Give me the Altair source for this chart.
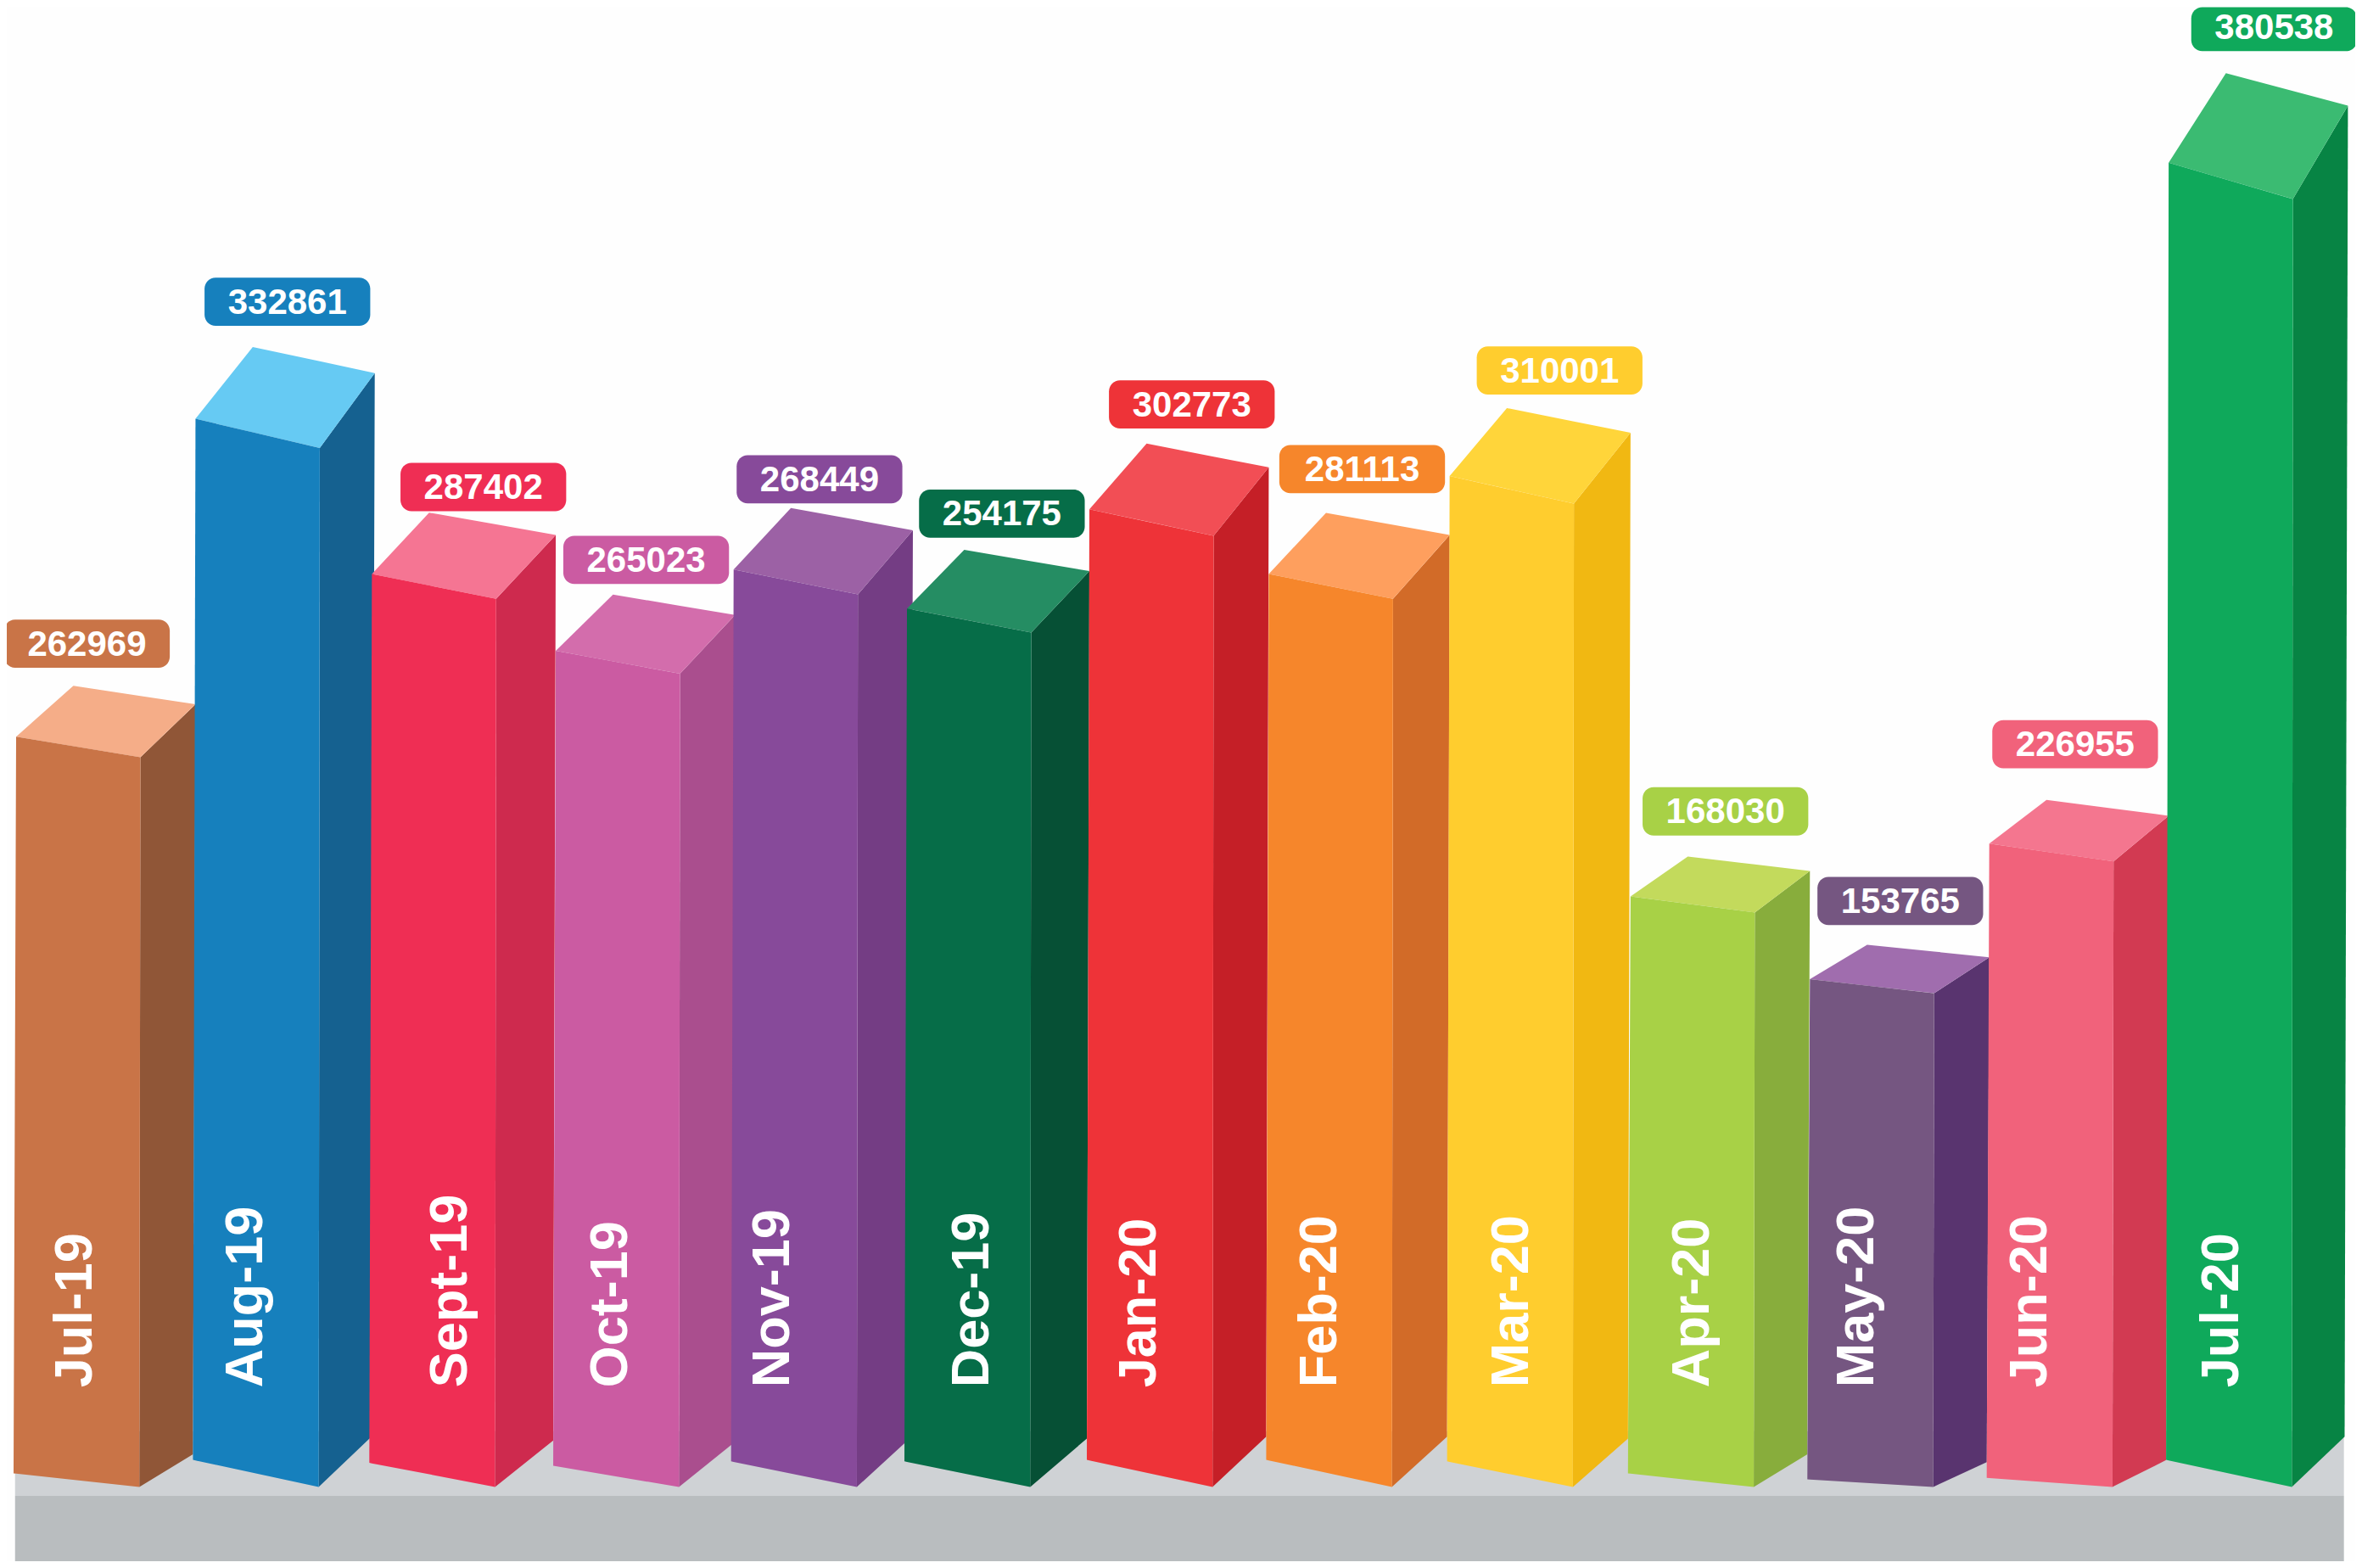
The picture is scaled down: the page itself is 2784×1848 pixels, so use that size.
import altair as alt
import pandas as pd

# --- data ---
months = ["Jul-19", "Aug-19", "Sept-19", "Oct-19", "Nov-19", "Dec-19", "Jan-20",
          "Feb-20", "Mar-20", "Apr-20", "May-20", "Jun-20", "Jul-20"]
values = [262969, 332861, 287402, 265023, 268449, 254175, 302773,
          281113, 310001, 168030, 153765, 226955, 380538]
# The drawn columns are not to scale with their labels, so their heights are read separately.
drawn_height = [489, 691, 590, 541, 592, 566, 631, 588, 654, 383, 332, 421, 861]
foot_slant = [9, 18, 16, 14, 17, 17, 18, 18, 17, 9, 5, 6, 18]

# --- styles ---
front_colors = ["#C97447", "#1680BD", "#EF2E54", "#CB5BA2", "#874A9A", "#066D48", "#EE3338",
                "#F6862B", "#FFCD2E", "#A8D146", "#755681", "#F1627B", "#0FA95B"]
side_colors = ["#905637", "#156190", "#CE2A4E", "#AA4E8E", "#743D84", "#065035", "#C51F27",
               "#D26B28", "#F1B812", "#88AD3C", "#59346F", "#D23A52", "#078444"]
top_colors = ["#F5AD88", "#66CAF3", "#F57593", "#D36DAC", "#9C61A5", "#258D63", "#F24E55",
              "#FE9F5E", "#FFD53A", "#C3DA5C", "#A06DAE", "#F4768F", "#3BBB72"]

# --- layout, in a 1568-wide drawing space ---
X0, X1, Y0, Y1 = 4.5, 1563.5, 4.5, 1036.3
PITCH, START, FRONT_W, SIDE_W, LEAN, BASE = 119.08, 9, 83.5, 36, 1.7, 987
bar_dx = [0, 0, -2, 1, 0, -4, -2, -2, -1, 0, 0, 0, 0]
badge_dx = [9, 23, 36, 22, 19, 25, 30, 24, 35, 25, 22, 19, 32]
badge_dy = [-28, -30, -17, -23, -19, -24, -26, -29, -25, -30, -29, -37, -30.6]
month_dx = [41, 35, 54, 38, 28, 45, 35, 36, 43, 43, 33, 29, 37]
BADGE_W, BADGE_H, MONTH_Y = 110, 32, 921


def envelope(points):
    """Turn a convex quadrilateral into the x / upper / lower rows an area mark takes."""
    n = len(points)
    edges = [(points[i], points[(i + 1) % n]) for i in range(n)]
    rows = []
    for x in sorted(p[0] for p in points):
        ys = [a[1] + (x - a[0]) / (b[0] - a[0]) * (b[1] - a[1])
              for a, b in edges
              if a[0] != b[0] and min(a[0], b[0]) <= x <= max(a[0], b[0])]
        rows.append((x, min(ys), max(ys)))
    return rows


lefts = [START + PITCH * i + d for i, d in enumerate(bar_dx)]

faces, badges, labels = [], [], []
for i, (month, value, h, slant) in enumerate(zip(months, values, drawn_height, foot_slant)):
    bl = lefts[i]
    br = bl + FRONT_W
    y_bl = BASE - slant
    y_tl = y_bl - h
    y_tr = y_tl + 0.028 * h
    top_rise = 0.069 * h
    back_rise = 0.072 * h
    foot_rise = 10 + 1.3 * slant
    tl = (bl + LEAN, y_tl)
    tr = (br + LEAN - 1, y_tr)
    # a side face runs back at least to the front edge of the next column, which covers it
    next_left = lefts[i + 1] if i + 1 < len(lefts) else br + SIDE_W - LEAN
    back_top = (max(next_left + LEAN, tr[0] + SIDE_W + 0.5), y_tr - back_rise)
    back_foot = (max(next_left, br + SIDE_W - 1), BASE - foot_rise)
    back_left = (tl[0] + 38, y_tl - top_rise)
    quads = {
        "side": ([(br, BASE), back_foot, back_top, tr], side_colors[i]),
        "top": ([tl, back_left, back_top, tr], top_colors[i]),
        "front": ([(bl, y_bl), tl, tr, (br, BASE)], front_colors[i]),
    }
    for face, (pts, color) in quads.items():
        for x, up, low in envelope(pts):
            faces.append(dict(month=month, face=face, x=x, y=up, y2=low, fill=color))
    cx = back_left[0] + badge_dx[i]
    cy = back_left[1] + badge_dy[i]
    badges.append(dict(text=str(value), cx=cx, cy=cy, x=cx - BADGE_W / 2, x2=cx + BADGE_W / 2,
                       y=max(cy - BADGE_H / 2, Y0 + 0.3), y2=cy + BADGE_H / 2,
                       fill=front_colors[i]))
    labels.append(dict(text=month, x=bl + month_dx[i], y=MONTH_Y))

faces = pd.DataFrame(faces)
badges = pd.DataFrame(badges)
labels = pd.DataFrame(labels)
floor = pd.DataFrame([
    dict(x=10, x2=1556, y=950, y2=993, fill="#CFD2D5"),
    dict(x=10, x2=1556, y=993, y2=1037, fill="#B9BDBF"),
])

x_scale = alt.Scale(domain=[X0, X1], nice=False, zero=False)
y_scale = alt.Scale(domain=[Y1, Y0], nice=False, zero=False)
X = alt.X("x:Q", scale=x_scale, axis=None)
Y = alt.Y("y:Q", scale=y_scale, axis=None)


def face_layer(name):
    return (
        alt.Chart(faces[faces.face == name])
        .mark_area(orient="vertical", interpolate="linear")
        .encode(x=X, y=alt.Y("y:Q", scale=y_scale, axis=None, stack=None), y2="y2:Q",
                detail="month:N", color=alt.Color("fill:N", scale=None))
    )


floor_layer = alt.Chart(floor).mark_rect().encode(
    x=X, x2="x2:Q", y=Y, y2="y2:Q", color=alt.Color("fill:N", scale=None))

badge_layer = alt.Chart(badges).mark_rect(cornerRadius=13).encode(
    x=X, x2="x2:Q", y=Y, y2="y2:Q", color=alt.Color("fill:N", scale=None))

badge_text = alt.Chart(badges).mark_text(
    font="Liberation Sans", fontWeight="bold", fontSize=42, color="#FFFFFF",
    align="center", baseline="middle", dy=1,
).encode(x=alt.X("cx:Q", scale=x_scale, axis=None), y=alt.Y("cy:Q", scale=y_scale, axis=None),
         text="text:N")

month_text = alt.Chart(labels).mark_text(
    font="Liberation Sans", fontWeight="bold", fontSize=63, color="#FFFFFF",
    align="left", baseline="middle", angle=270,
).encode(x=X, y=Y, text="text:N")

chart = (
    alt.layer(floor_layer, face_layer("side"), face_layer("top"), face_layer("front"),
              badge_layer, badge_text, month_text)
    .properties(width=2768, height=1832, background="#FEFEFE", padding=0,
                autosize=alt.AutoSizeParams(type="none"))
    .configure_view(stroke=None)
)

chart.save("out.html", embed_options={"renderer": "svg", "actions": False})
